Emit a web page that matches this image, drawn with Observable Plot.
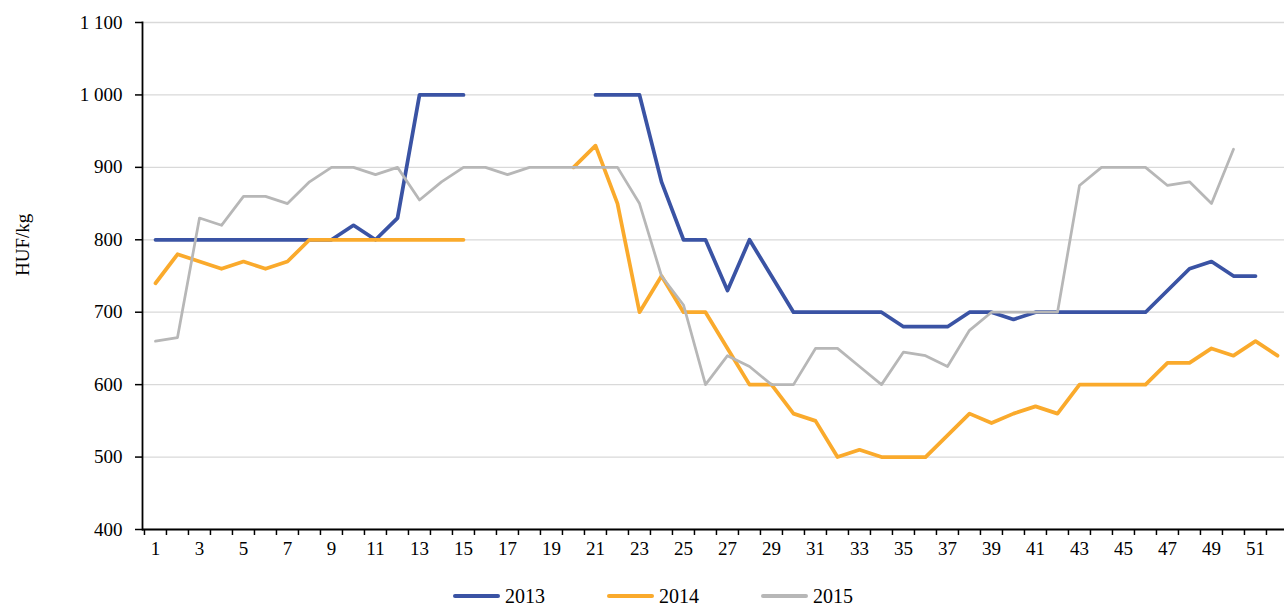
<!DOCTYPE html>
<html><head><meta charset="utf-8">
<script src="https://cdn.jsdelivr.net/npm/d3@7"></script>
<script src="https://cdn.jsdelivr.net/npm/@observablehq/plot@0.6"></script>
<style>
html,body{margin:0;padding:0;background:#fff;overflow:hidden;width:1284px;height:605px;}
#chart{position:relative;width:1284px;height:605px;}
#legend{position:absolute;left:453px;top:582px;height:28px;display:flex;align-items:center;font-family:"Liberation Serif","Times New Roman",serif;font-size:20px;color:#000;}
.item{display:flex;align-items:center;margin-right:62px;}
.sw{width:47px;height:4px;border-radius:2px;margin-right:5px;}
</style></head>
<body><div id="chart"></div>
<script>
const weeks=[1,2,3,4,5,6,7,8,9,10,11,12,13,14,15,16,17,18,19,20,21,22,23,24,25,26,27,28,29,30,31,32,33,34,35,36,37,38,39,40,41,42,43,44,45,46,47,48,49,50,51,52];
const tickWeeks=[1,3,5,7,9,11,13,15,17,19,21,23,25,27,29,31,33,35,37,39,41,43,45,47,49,51];
const yTicks=[400,500,600,700,800,900,1000,1100];
const years=["2013","2014","2015"];
const colors=["#3A53A4","#FAAA2C","#B7B7B7"];
const widths=[3.75,3.75,2.75];
const v2013=[800,800,800,800,800,800,800,800,800,820,800,830,1000,1000,1000,null,null,null,null,null,1000,1000,1000,880,800,800,730,800,750,700,700,700,700,700,680,680,680,700,700,690,700,700,700,700,700,700,730,760,770,750,750,null];
const v2014=[740,780,770,760,770,760,770,800,800,800,800,800,800,800,800,null,null,null,null,900,930,850,700,750,700,700,650,600,600,560,550,500,510,500,500,500,530,560,547,560,570,560,600,600,600,600,630,630,650,640,660,640];
const v2015=[660,665,830,820,860,860,850,880,900,900,890,900,855,880,900,900,890,900,900,900,900,900,850,750,710,600,640,625,600,600,650,650,625,600,645,640,625,675,700,700,700,700,875,900,900,900,875,880,850,925,null,null];
const seriesValues=[v2013,v2014,v2015];

const xRange=[142,1290];
const step=(xRange[1]-xRange[0])/weeks.length;
const fmt=d=>d>=1000?Math.floor(d/1000)+" "+String(d%1000).padStart(3,"0"):String(d);

const lineMarks=seriesValues.map((vals,k)=>Plot.line(vals,{x:(d,i)=>weeks[i],y:d=>d,stroke:colors[k],strokeWidth:widths[k],strokeLinecap:"round",strokeLinejoin:"round"}));

const plot=Plot.plot({
  width:1284,height:560,marginTop:22,marginBottom:31,marginLeft:142,marginRight:0,
  style:{fontFamily:'"Liberation Serif","Times New Roman",serif',fontSize:"19px",color:"#000",background:"transparent",overflow:"visible"},
  x:{type:"point",domain:weeks,range:xRange,padding:0.5,label:null},
  y:{domain:[400,1100],label:null},
  marks:[
    Plot.gridY(yTicks,{stroke:"#d9d9d9",strokeOpacity:1,strokeWidth:1.3}),
    ...lineMarks,
    Plot.ruleY([400],{stroke:"#000",strokeWidth:1.8}),
    Plot.frame({anchor:"left",stroke:"#000",strokeWidth:1.8}),
    Plot.axisY(yTicks,{tickSize:7,tickPadding:13,tickFormat:fmt,stroke:"#000",strokeWidth:1.5,label:null}),
    Plot.axisX(weeks,{tickSize:6,tickFormat:()=>"",dx:-step/2,stroke:"#000",strokeWidth:1.5,label:null}),
    Plot.axisX(tickWeeks,{tickSize:0,tickPadding:11.5,label:null}),
    Plot.text(["HUF/kg"],{frameAnchor:"left",dx:-120,rotate:-90,fontSize:19})
  ]
});
const chart=document.getElementById("chart");
chart.appendChild(plot);
const legend=document.createElement("div");
legend.id="legend";
years.forEach((y,k)=>{
  const it=document.createElement("div");it.className="item";
  const sw=document.createElement("div");sw.className="sw";sw.style.background=colors[k];
  const t=document.createElement("span");t.textContent=y;
  it.appendChild(sw);it.appendChild(t);legend.appendChild(it);
});
chart.appendChild(legend);
</script>
</body></html>
